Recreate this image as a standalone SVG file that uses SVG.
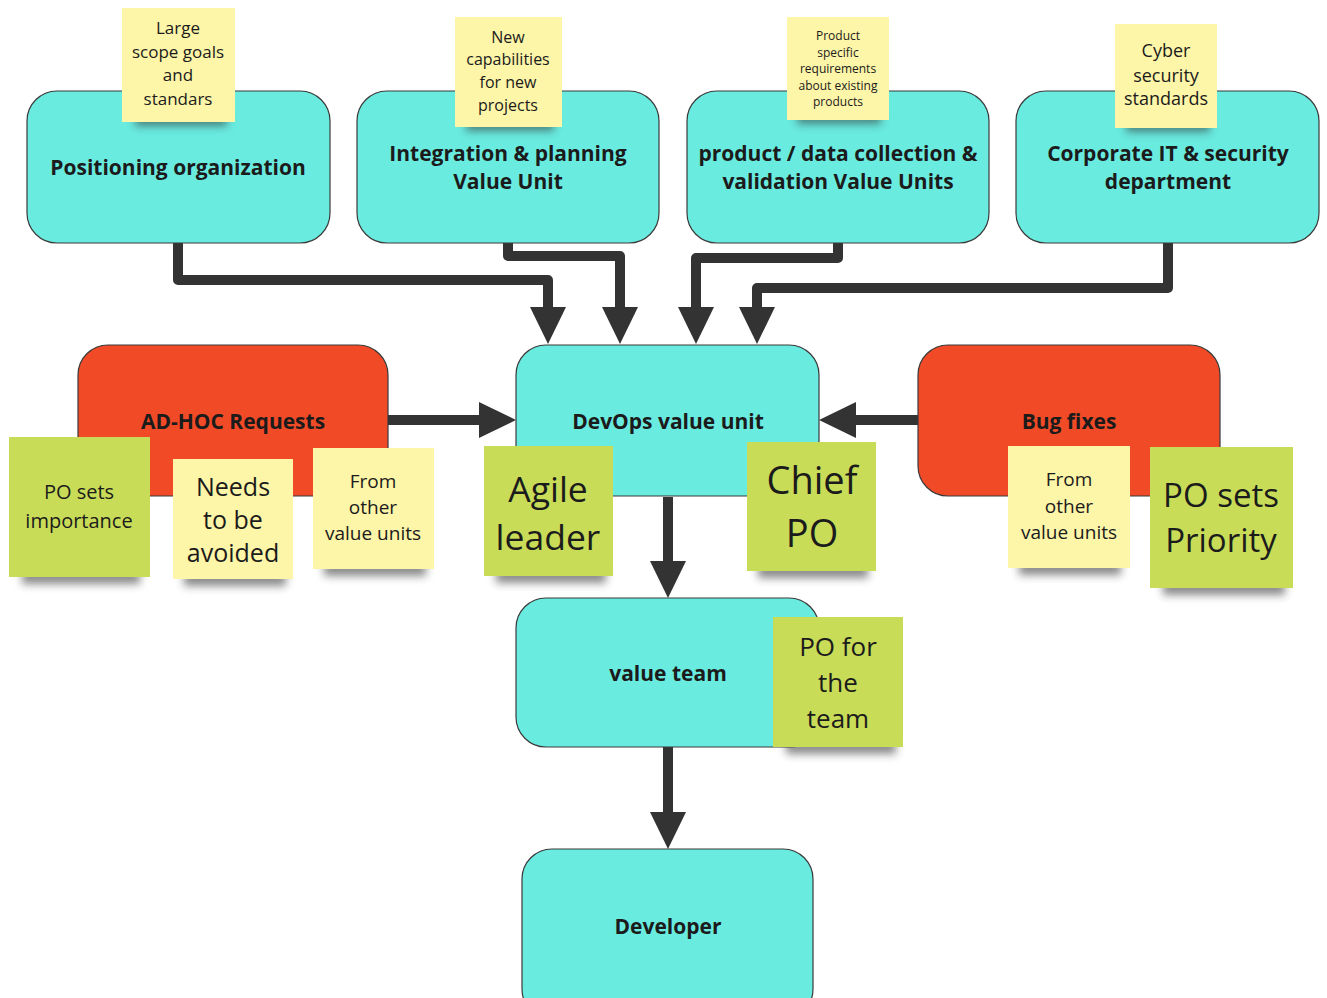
<svg xmlns="http://www.w3.org/2000/svg" width="1327" height="998" viewBox="0 0 1327 998">
  <defs>
    <style>
      .box { stroke: #3a3a3a; stroke-width: 1.2; }
      .cyan { fill: #6aebe0; }
      .red { fill: #f04a27; }
      .yellow { fill: #fdf5a8; }
      .green { fill: #c8dc58; }
      .shadow { fill: #2a2a2a; opacity: 0.55; filter: url(#soft); }
      .label { font-family: "Open Sans", "Liberation Sans", sans-serif; font-weight: 700; font-size: 21px; fill: #1b1b1b; text-anchor: middle; dominant-baseline: central; }
      .note { font-family: "Open Sans", "Liberation Sans", sans-serif; font-weight: 400; fill: #1b1b1b; text-anchor: middle; dominant-baseline: central; }
      .wire { fill: none; stroke: #333333; stroke-width: 10; stroke-linejoin: round; marker-end: url(#head); }
    </style>
    <filter id="soft" x="-20%" y="-100%" width="140%" height="300%">
      <feGaussianBlur stdDeviation="4"/>
    </filter>
    <marker id="head" markerUnits="userSpaceOnUse" markerWidth="38" markerHeight="38" refX="0" refY="18" orient="auto">
      <path d="M0,0 L37,18 L0,36 Z" fill="#333333"/>
    </marker>
  </defs>

  <!-- connectors -->
  <g id="connectors">
    <path class="wire" d="M178,243 V280 H548 V307"/>
    <path class="wire" d="M508,243 V256 H620 V307"/>
    <path class="wire" d="M838,243 V258 H696 V307"/>
    <path class="wire" d="M1168,243 V288 H757 V307"/>
    <path class="wire" d="M388,420 H479"/>
    <path class="wire" d="M918,420 H856"/>
    <path class="wire" d="M668,497 V561"/>
    <path class="wire" d="M668,747 V812"/>
  </g>

  <!-- top row of value units -->
  <g id="positioning-organization">
    <rect class="box cyan" x="27" y="91" width="303" height="152" rx="30"/>
    <text class="label" x="178" y="167">Positioning organization</text>
  </g>
  <g id="integration-planning">
    <rect class="box cyan" x="357" y="91" width="302" height="152" rx="30"/>
    <text class="label" x="508" y="153">Integration &amp; planning</text>
    <text class="label" x="508" y="181">Value Unit</text>
  </g>
  <g id="product-data-collection">
    <rect class="box cyan" x="687" y="91" width="302" height="152" rx="30"/>
    <text class="label" x="838" y="153">product / data collection &amp;</text>
    <text class="label" x="838" y="181">validation Value Units</text>
  </g>
  <g id="corporate-it">
    <rect class="box cyan" x="1016" y="91" width="303" height="152" rx="30"/>
    <text class="label" x="1168" y="153">Corporate IT &amp; security</text>
    <text class="label" x="1168" y="181">department</text>
  </g>

  <!-- notes on the top row -->
  <g id="note-large-scope">
    <rect class="shadow" x="135" y="114" width="92" height="12"/>
    <rect class="yellow" x="122" y="8" width="113" height="114"/>
    <text class="note" font-size="17" x="178" y="27">Large</text>
    <text class="note" font-size="17" x="178" y="51">scope goals</text>
    <text class="note" font-size="17" x="178" y="74">and</text>
    <text class="note" font-size="17" x="178" y="98">standars</text>
  </g>
  <g id="note-new-capabilities">
    <rect class="shadow" x="466" y="119" width="88" height="12"/>
    <rect class="yellow" x="455" y="17" width="107" height="110"/>
    <text class="note" font-size="16" x="508" y="37">New</text>
    <text class="note" font-size="16" x="508" y="59">capabilities</text>
    <text class="note" font-size="16" x="508" y="82">for new</text>
    <text class="note" font-size="16" x="508" y="105">projects</text>
  </g>
  <g id="note-product-specific">
    <rect class="shadow" x="797" y="112" width="84" height="12"/>
    <rect class="yellow" x="787" y="17" width="102" height="103"/>
    <text class="note" font-size="12" x="838" y="35">Product</text>
    <text class="note" font-size="12" x="838" y="52">specific</text>
    <text class="note" font-size="12" x="838" y="68">requirements</text>
    <text class="note" font-size="12" x="838" y="85">about existing</text>
    <text class="note" font-size="12" x="838" y="101">products</text>
  </g>
  <g id="note-cyber-security">
    <rect class="shadow" x="1126" y="120" width="84" height="12"/>
    <rect class="yellow" x="1115" y="24" width="102" height="104"/>
    <text class="note" font-size="18" x="1166" y="50">Cyber</text>
    <text class="note" font-size="18" x="1166" y="75">security</text>
    <text class="note" font-size="18" x="1166" y="98">standards</text>
  </g>

  <!-- middle row -->
  <g id="ad-hoc-requests">
    <rect class="box red" x="78" y="345" width="310" height="151" rx="30"/>
    <text class="label" x="233" y="421">AD-HOC Requests</text>
  </g>
  <g id="devops-value-unit">
    <rect class="box cyan" x="516" y="345" width="303" height="151" rx="30"/>
    <text class="label" x="668" y="421">DevOps value unit</text>
  </g>
  <g id="bug-fixes">
    <rect class="box red" x="918" y="345" width="302" height="151" rx="30"/>
    <text class="label" x="1069" y="421">Bug fixes</text>
  </g>

  <!-- notes on the middle row -->
  <g id="note-po-sets-importance">
    <rect class="shadow" x="22" y="570" width="118" height="14"/>
    <rect class="green" x="9" y="437" width="141" height="140"/>
    <text class="note" font-size="20" x="79" y="491">PO sets</text>
    <text class="note" font-size="20" x="79" y="520">importance</text>
  </g>
  <g id="note-needs-avoided">
    <rect class="shadow" x="184" y="572" width="102" height="14"/>
    <rect class="yellow" x="173" y="459" width="120" height="120"/>
    <text class="note" font-size="25" x="233" y="486">Needs</text>
    <text class="note" font-size="25" x="233" y="519">to be</text>
    <text class="note" font-size="25" x="233" y="552">avoided</text>
  </g>
  <g id="note-from-other-left">
    <rect class="shadow" x="324" y="562" width="102" height="14"/>
    <rect class="yellow" x="313" y="448" width="121" height="121"/>
    <text class="note" font-size="19" x="373" y="481">From</text>
    <text class="note" font-size="19" x="373" y="507">other</text>
    <text class="note" font-size="19" x="373" y="533">value units</text>
  </g>
  <g id="note-agile-leader">
    <rect class="shadow" x="496" y="569" width="110" height="14"/>
    <rect class="green" x="484" y="446" width="129" height="130"/>
    <text class="note" font-size="35.5" x="548" y="488">Agile</text>
    <text class="note" font-size="35.5" x="548" y="536">leader</text>
  </g>
  <g id="note-chief-po">
    <rect class="shadow" x="758" y="564" width="110" height="14"/>
    <rect class="green" x="747" y="442" width="129" height="129"/>
    <text class="note" font-size="38" x="812" y="479">Chief</text>
    <text class="note" font-size="38" x="812" y="532">PO</text>
  </g>
  <g id="note-from-other-right">
    <rect class="shadow" x="1019" y="561" width="102" height="14"/>
    <rect class="yellow" x="1008" y="446" width="122" height="122"/>
    <text class="note" font-size="19" x="1069" y="479">From</text>
    <text class="note" font-size="19" x="1069" y="506">other</text>
    <text class="note" font-size="19" x="1069" y="532">value units</text>
  </g>
  <g id="note-po-sets-priority">
    <rect class="shadow" x="1163" y="581" width="122" height="14"/>
    <rect class="green" x="1150" y="447" width="143" height="141"/>
    <text class="note" font-size="33" x="1221" y="494">PO sets</text>
    <text class="note" font-size="33" x="1221" y="539">Priority</text>
  </g>

  <!-- lower rows -->
  <g id="value-team">
    <rect class="box cyan" x="516" y="598" width="303" height="149" rx="30"/>
    <text class="label" x="668" y="673">value team</text>
  </g>
  <g id="note-po-for-team">
    <rect class="shadow" x="786" y="740" width="110" height="14"/>
    <rect class="green" x="773" y="617" width="130" height="130"/>
    <text class="note" font-size="26" x="838" y="646">PO for</text>
    <text class="note" font-size="26" x="838" y="682">the</text>
    <text class="note" font-size="26" x="838" y="718">team</text>
  </g>
  <g id="developer">
    <rect class="box cyan" x="522" y="849" width="291" height="170" rx="30"/>
    <text class="label" x="668" y="926">Developer</text>
  </g>
</svg>
